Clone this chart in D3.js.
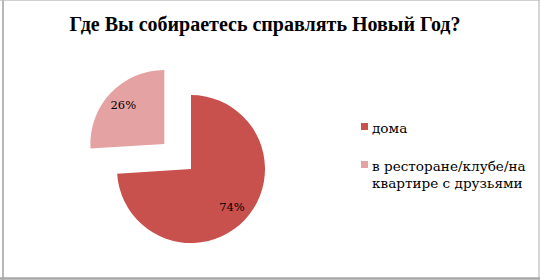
<!DOCTYPE html>
<html><head><meta charset="utf-8">
<script src="https://cdn.jsdelivr.net/npm/d3@7"></script>
<style>html,body{margin:0;padding:0;background:#fff;}svg{display:block;}</style>
</head><body>
<svg id="c" width="540" height="280"></svg>
<script>
const title = "Где Вы собираетесь справлять Новый Год?";
const categories = ["дома", "в ресторане/клубе/на квартире с друзьями"];
const legendLines = [["дома"], ["в ресторане/клубе/на", "квартире с друзьями"]];
const values = [74, 26];
const labels = ["74%", "26%"];

const colors = ["#C8514D", "#E4A3A2"];
const explodePx = [0, 36.6];

const svg = d3.select("#c");
svg.append("rect").attr("x",0).attr("y",0).attr("width",540).attr("height",280).attr("fill","#fff");
svg.append("line").attr("x1",0).attr("x2",540).attr("y1",0.5).attr("y2",0.5).attr("stroke","#d0d0d0");
svg.append("line").attr("x1",3).attr("x2",3).attr("y1",0).attr("y2",280).attr("stroke","#b8b8b8").attr("stroke-width",2);
svg.append("line").attr("x1",539).attr("x2",539).attr("y1",0).attr("y2",280).attr("stroke","#c8c8c8").attr("stroke-width",1.5);
svg.append("line").attr("x1",0).attr("x2",540).attr("y1",278.5).attr("y2",278.5).attr("stroke","#a8a8a8").attr("stroke-width",2.5);

const serif = "'DejaVu Serif', serif";
svg.append("text").attr("x",265).attr("y",31).attr("text-anchor","middle")
  .attr("font-family","'Liberation Serif', serif").attr("font-weight","bold").attr("font-size",20)
  .attr("fill","#000").text(title);

const cx = 191, cy = 169, r = 74;
const pie = d3.pie().sort(null).value(d => d)(values);
const arc = d3.arc().innerRadius(0).outerRadius(r);
const g = svg.append("g").attr("transform", `translate(${cx},${cy})`);
pie.forEach((p, i) => {
  const mid = (p.startAngle + p.endAngle) / 2;
  const dx = Math.sin(mid) * explodePx[i], dy = -Math.cos(mid) * explodePx[i];
  const sg = g.append("g").attr("transform", `translate(${dx},${dy})`);
  sg.append("path").attr("d", arc(p)).attr("fill", colors[i]);
  const lr = r * 0.76;
  sg.append("text").attr("x", Math.sin(mid) * lr).attr("y", -Math.cos(mid) * lr + 4)
    .attr("text-anchor","middle").attr("font-family",serif).attr("font-size",11.5)
    .attr("fill","#000").text(labels[i]);
});

const lg = svg.append("g");
const legY = [123, 161];
legendLines.forEach((lines, i) => {
  lg.append("rect").attr("x",361).attr("y",legY[i]).attr("width",7).attr("height",7).attr("fill",colors[i]);
  lines.forEach((tt, j) => {
    lg.append("text").attr("x",372).attr("y",legY[i] + 10 + j*16.5)
      .attr("font-family",serif).attr("font-size",13.6).attr("fill","#000").text(tt);
  });
});
</script>
</body></html>
